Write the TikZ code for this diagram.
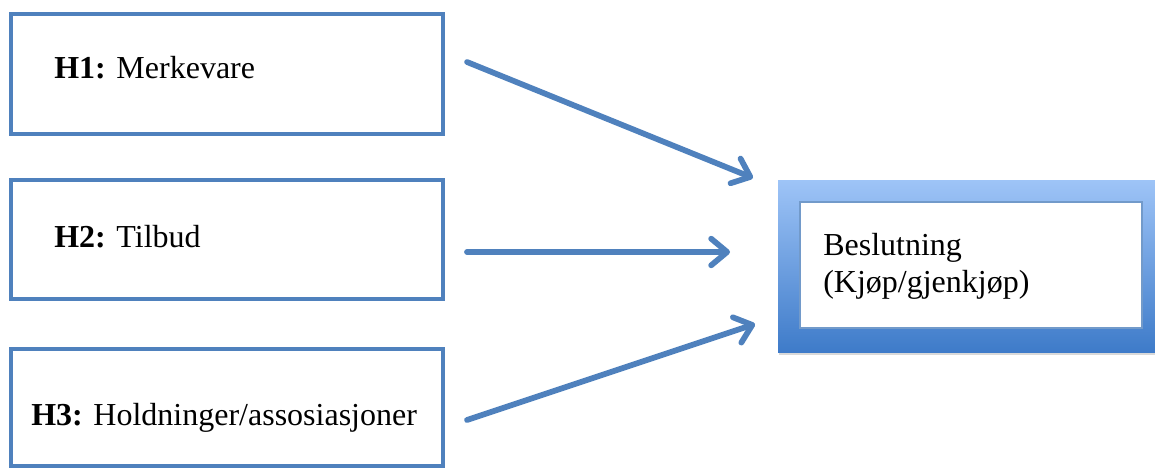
\documentclass[tikz,border=0pt]{standalone}
\usepackage{fontspec}
\setmainfont{Liberation Serif}
\usetikzlibrary{arrows.meta,shadows}
\definecolor{boxblue}{HTML}{4F81BD}
\definecolor{gradtop}{HTML}{9EC4F7}
\definecolor{gradbottom}{HTML}{3E7BC9}
\begin{document}
\begin{tikzpicture}[x=0.75pt,y=-0.75pt,
    hypbox/.style={draw=boxblue, line width=3.4pt, fill=white, minimum width=324pt,
        drop shadow={opacity=0.25, shadow xshift=1pt, shadow yshift=-1.5pt}},
    link/.style={draw=boxblue, line width=4.3pt, line cap=round,
        -{Straight Barb[length=12pt,width=20pt,line cap=round,line join=round]}},
    lbl/.style={anchor=base west, inner sep=0pt, align=left,
        font=\fontsize{24}{27.75}\selectfont}]
    \useasboundingbox (0,0) rectangle (1155,467);

    % Hypothesis boxes
    \node[hypbox, minimum height=90pt] (h1box) at (227,74) {};
    \node[hypbox, minimum height=89pt] (h2box) at (227,239.5) {};
    \node[hypbox, minimum height=88pt] (h3box) at (227,407.5) {};

    % Decision box
    \node[minimum width=294pt, minimum height=129pt, top color=gradtop, bottom color=gradbottom,
        drop shadow={opacity=0.3, shadow xshift=1pt, shadow yshift=-2pt}] (decframe) at (974,266) {};
    \node[draw=boxblue!80, line width=0.8pt, fill=white, minimum width=256.5pt,
        minimum height=94.5pt] (decbox) at (971,265) {};

    % Labels
    \node[lbl] (h1lbl) at (54,79) {\textbf{H1:} Merkevare};
    \node[lbl] (h2lbl) at (54,247) {\textbf{H2:} Tilbud};
    \node[lbl] (h3lbl) at (31,425) {\textbf{H3:} Holdninger/assosiasjoner};
    \node[lbl] (declbl) at (823,292) {Beslutning\\(Kjøp/gjenkjøp)};

    % Arrows
    \coordinate (h1out) at (467,62);
    \coordinate (d1in) at (753,178);
    \coordinate (h2out) at (467,252);
    \coordinate (d2in) at (730,252);
    \coordinate (h3out) at (467,420);
    \coordinate (d3in) at (755,324);
    \draw[link] (h1out) -- (d1in);
    \draw[link] (h2out) -- (d2in);
    \draw[link] (h3out) -- (d3in);
\end{tikzpicture}
\end{document}
